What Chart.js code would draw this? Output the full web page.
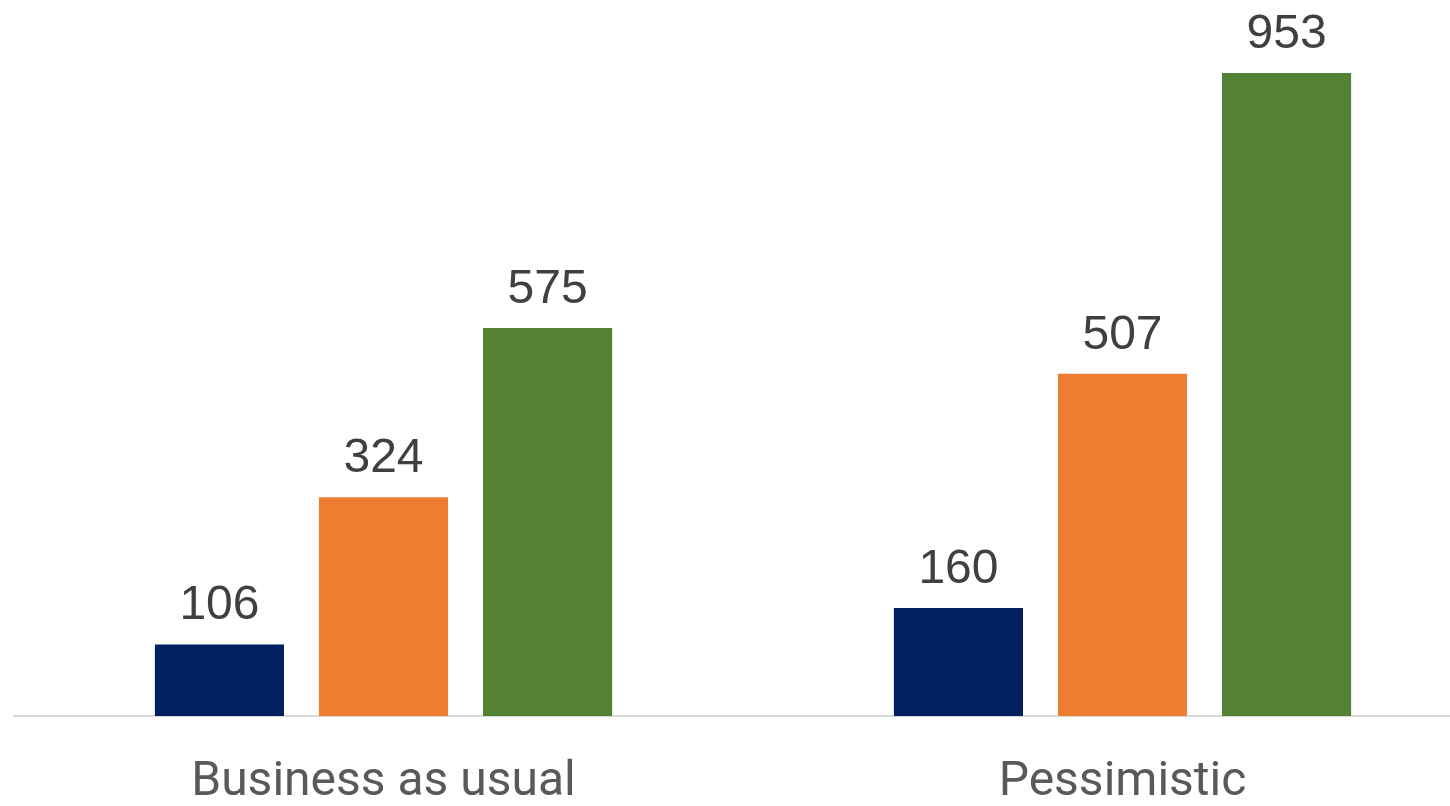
<!DOCTYPE html>
<html>
<head>
<meta charset="utf-8">
<title>Scenarios</title>
<script src="https://cdn.jsdelivr.net/npm/chart.js@4/dist/chart.umd.min.js"></script>
<style>
  html, body { margin: 0; padding: 0; background: #ffffff; overflow: hidden; }
  #wrap { position: relative; width: 1500px; height: 806px; }
</style>
</head>
<body>
<div id="wrap"><canvas id="chart"></canvas></div>
<script>
const scenarios = ["Business as usual", "Pessimistic"];
const seriesA = [106, 160];
const seriesB = [324, 507];
const seriesC = [575, 953];

const COLORS = ["#002060", "#ED7D31", "#548235"];

// value labels above each bar
const valueLabels = {
  id: "valueLabels",
  afterDatasetsDraw(chart) {
    const ctx = chart.ctx;
    ctx.save();
    ctx.font = '48px "Liberation Sans", Arial, sans-serif';
    ctx.fillStyle = "#404040";
    ctx.textAlign = "center";
    ctx.textBaseline = "alphabetic";
    chart.data.datasets.forEach((ds, i) => {
      chart.getDatasetMeta(i).data.forEach((bar, j) => {
        ctx.fillText(String(ds.data[j]), bar.x, bar.y - 25);
      });
    });
    ctx.restore();
  },
};

new Chart(document.getElementById("chart"), {
  type: "bar",
  data: {
    labels: scenarios,
    datasets: [
      { label: "A", data: seriesA, backgroundColor: COLORS[0] },
      { label: "B", data: seriesB, backgroundColor: COLORS[1] },
      { label: "C", data: seriesC, backgroundColor: COLORS[2] },
    ],
  },
  options: {
    responsive: true,
    maintainAspectRatio: false,
    animation: false,
    categoryPercentage: 0.666,
    barPercentage: 0.787,
    layout: { padding: { left: 14, right: 8, top: 0, bottom: 0 } },
    plugins: {
      legend: { display: false },
      tooltip: { enabled: false },
    },
    scales: {
      x: {
        grid: { display: false, drawTicks: false },
        border: { display: true, color: "#D9D9D9", width: 2 },
        ticks: {
          color: "#595959",
          font: { family: "Roboto", size: 48 },
          padding: 38,
          maxRotation: 0,
        },
        afterFit(scale) {
          scale.height = 90;
        },
      },
      y: {
        display: false,
        min: 0,
        max: 1061,
      },
    },
  },
  plugins: [valueLabels],
});
</script>
</body>
</html>
